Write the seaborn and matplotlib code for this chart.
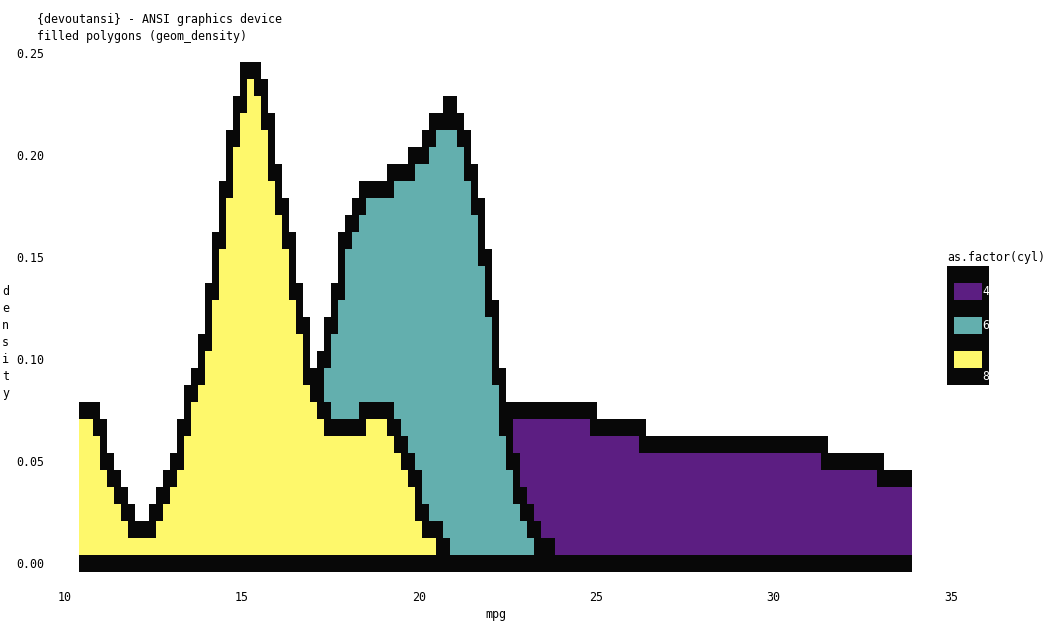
import numpy as np
import matplotlib
matplotlib.use("Agg")
import matplotlib.pyplot as plt
from matplotlib.colors import ListedColormap
from matplotlib.patches import Rectangle
import seaborn as sns

# density curves (mpg -> density), one pair per cylinder group
mpg_4 = [10.40, 14.00, 16.00, 17.00, 18.00, 19.00, 20.00, 21.00, 22.00, 22.54, 23.00, 24.00,
         24.72, 24.92, 25.12, 26.10, 26.30, 26.50, 31.23, 31.43, 31.62, 32.81, 33.01, 33.20, 33.90]
dens_4 = [0.0, 0.0003, 0.0035, 0.008, 0.0165, 0.029, 0.044, 0.058, 0.068, 0.073, 0.075, 0.075,
          0.074, 0.071, 0.067, 0.066, 0.0625, 0.059, 0.058, 0.054, 0.050, 0.050, 0.046, 0.042, 0.042]

mpg_6 = [10.40, 14.84, 15.64, 16.03, 16.43, 16.62, 16.82, 17.02, 17.22, 17.41, 17.61, 17.81,
         18.00, 18.20, 18.39, 18.79, 19.18, 19.38, 19.77, 19.97, 20.17, 20.37, 20.56, 20.76,
         20.96, 21.16, 21.35, 21.55, 21.75, 21.94, 22.14, 22.34, 22.54, 22.73, 22.93, 23.13,
         23.33, 23.52, 23.72, 23.92, 24.50, 33.90]
dens_6 = [0.0, 0.0005, 0.004, 0.009, 0.022, 0.032, 0.048, 0.070, 0.092, 0.113, 0.127, 0.146,
          0.163, 0.175, 0.182, 0.184, 0.188, 0.192, 0.193, 0.200, 0.205, 0.211, 0.215, 0.221,
          0.221, 0.215, 0.204, 0.183, 0.167, 0.138, 0.108, 0.083, 0.058, 0.042, 0.029, 0.017,
          0.010, 0.006, 0.005, 0.003, 0.0005, 0.0]

mpg_8 = [10.40, 10.70, 10.89, 11.09, 11.29, 11.49, 11.68, 11.88, 12.08, 12.28, 12.47, 12.67,
         12.87, 13.07, 13.26, 13.46, 13.66, 13.86, 14.05, 14.25, 14.45, 14.65, 14.84, 15.04,
         15.24, 15.44, 15.64, 15.83, 16.03, 16.23, 16.43, 16.62, 16.82, 17.02, 17.22, 17.41,
         17.81, 18.20, 18.39, 18.79, 19.18, 19.38, 19.57, 19.77, 19.97, 20.17, 20.37, 20.56,
         20.76, 20.86, 21.16, 22.35, 33.90]
dens_8 = [0.075, 0.0745, 0.068, 0.058, 0.046, 0.036, 0.025, 0.018, 0.016, 0.0165, 0.021, 0.029,
          0.0375, 0.046, 0.054, 0.071, 0.0875, 0.100, 0.121, 0.150, 0.171, 0.196, 0.217, 0.234,
          0.2417, 0.238, 0.229, 0.208, 0.183, 0.167, 0.142, 0.121, 0.104, 0.085, 0.075, 0.067,
          0.066, 0.068, 0.072, 0.075, 0.074, 0.064, 0.054, 0.046, 0.033, 0.021, 0.016, 0.0105,
          0.0055, 0.004, 0.002, 0.0005, 0.0]

cyl_levels = ["4", "6", "8"]
x_ticks = [10, 15, 20, 25, 30, 35]
x_labels = ["10", "15", "20", "25", "30", "35"]
y_ticks = [0.00, 0.05, 0.10, 0.15, 0.20, 0.25]
y_labels = ["0.00", "0.05", "0.10", "0.15", "0.20", "0.25"]

fill_cols = {"4": "#5c1e82", "6": "#63afae", "8": "#fef86b"}
ink = "#080808"
fs = 8.4

groups = {"4": (mpg_4, dens_4), "6": (mpg_6, dens_6), "8": (mpg_8, dens_8)}

# the ANSI device paints on a character grid: one cell is 7 x 17 screen pixels.
# work out which cell gets which colour (fill below the curve, one-cell outline on it)
n_cols, n_rows = 119, 31
cell_h = 0.25 / 30
x_lo, x_hi = 10.4, 33.9
x_edges = np.linspace(x_lo, x_hi, n_cols + 1)
y_edges = (np.arange(n_rows + 1) - 0.5) * cell_h
x_mid = (x_edges[:-1] + x_edges[1:]) / 2
rows = np.arange(n_rows)

code = np.zeros((n_rows, n_cols), dtype=int)   # 0 = paper
n_fill = len(cyl_levels)
for k, cyl in enumerate(cyl_levels, start=1):   # 4 first, 8 painted last
    xs, ys = groups[cyl]
    y_mid = np.interp(x_mid, xs, ys)
    under = (rows[:, None] * cell_h < y_mid[None, :]) & (rows[:, None] >= 1)
    code[under] = k
    for j in range(n_cols):
        probe = np.linspace(x_edges[j], x_edges[j + 1], 9)
        r = np.rint(np.interp(probe, xs, ys) / cell_h).astype(int)
        code[r.min():r.max() + 1, j] = n_fill + 1
code[0, :] = n_fill + 1   # baseline row

cell_cmap = ListedColormap([fill_cols[c] for c in cyl_levels] + [ink])

# main figure
sns.set_theme(style="white")
plt.rcParams["font.family"] = ["DejaVu Sans Mono"]
W, H = 1063, 635
fig = plt.figure(figsize=(W / 100, H / 100), dpi=100)
fig.patch.set_facecolor("white")


def fx(px):
    return px / W


def fy(py):
    return 1 - py / H


ax = fig.add_axes([fx(64.8), fy(563.5), 886.2 / W, 510 / H])
ax.set_facecolor("white")
mesh = ax.pcolormesh(x_edges, y_edges, np.ma.masked_equal(code, 0), cmap=cell_cmap,
                     vmin=0.5, vmax=n_fill + 1.5, antialiased=False, linewidth=0)
mesh.set_clip_on(False)
ax.set_xlim(10, 35)
ax.set_ylim(0, 0.25)
ax.set_xticks(x_ticks, x_labels)
ax.set_yticks(y_ticks, y_labels)
ax.tick_params(length=0, labelsize=fs, labelcolor="black")
ax.tick_params(axis="y", pad=15)
ax.tick_params(axis="x", pad=20)
sns.despine(ax=ax, left=True, bottom=True)
ax.grid(False)

ax.set_xlabel("mpg", fontsize=fs, color="black")
ax.xaxis.label.set_va("center")
ax.xaxis.set_label_coords((22.15 - 10) / 25, -(614.5 - 563.5) / 510)

for i, ch in enumerate("density"):
    fig.text(fx(5.5), fy(291.5 + 17 * i), ch, ha="center", va="center",
             fontsize=fs, color="black")

fig.text(fx(37), fy(19.5), "{devoutansi} - ANSI graphics device", ha="left",
         va="center", fontsize=fs, color="black")
fig.text(fx(37), fy(36.5), "filled polygons (geom_density)", ha="left",
         va="center", fontsize=fs, color="black")

# legend, placed the way the device puts it on the character grid
fig.text(fx(947), fy(257.5), "as.factor(cyl)", ha="left", va="center",
         fontsize=fs, color="black")
fig.add_artist(Rectangle((fx(947), fy(385)), 42 / W, 119 / H, transform=fig.transFigure,
                         facecolor=ink, edgecolor="none"))
label_rows = [291.5, 325.5, 376.5]
for i, cyl in enumerate(cyl_levels):
    top = 283 + 34 * i
    fig.add_artist(Rectangle((fx(954), fy(top + 17)), 28 / W, 17 / H,
                             transform=fig.transFigure, facecolor=fill_cols[cyl],
                             edgecolor="none"))
    fig.text(fx(985.5), fy(label_rows[i]), cyl, ha="center", va="center",
             fontsize=fs, color="white")

fig.savefig("out.png", dpi=100)
